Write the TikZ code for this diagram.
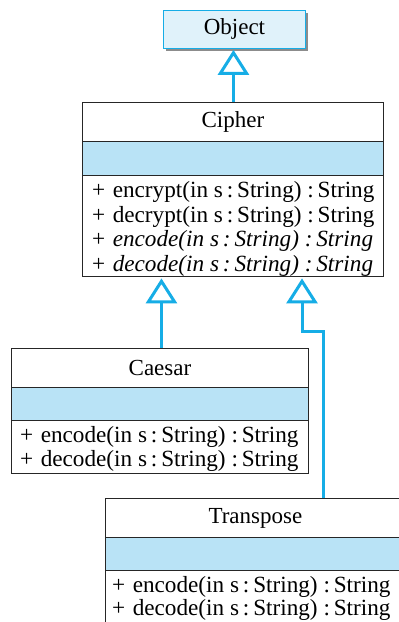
\documentclass[tikz,border=0pt]{standalone}
\usepackage{fontspec}
\setmainfont{Liberation Serif}
\usetikzlibrary{arrows.meta,shadows}
\definecolor{umlcyan}{HTML}{16ADE6}
\definecolor{compblue}{HTML}{B9E3F6}
\definecolor{objfill}{HTML}{E0F2FA}
\newcommand{\pl}{+\hspace{7.5pt}}
\tikzset{
  box/.style={draw=black!85, line width=0.9pt, fill=white, anchor=north west, inner sep=0pt,
    font=\fontsize{23}{25}\selectfont},
  attr/.style={box, fill=compblue},
  methtext/.style={anchor=west, align=left, inner sep=0pt, font=\fontsize{23.2}{24.5}\selectfont},
  inh/.style={draw=umlcyan, line width=3pt, -{Triangle[open, length=25pt, width=31pt, line width=3pt]}},
}
\begin{document}
\begin{tikzpicture}[x=1pt,y=-1pt]
\useasboundingbox (0,0) rectangle (399,622);
\clip (0,0) rectangle (399,622);
% Object
\node[box, draw=umlcyan, fill=objfill, minimum width=142pt, minimum height=38pt,
  drop shadow={shadow xshift=3pt, shadow yshift=-3pt, fill=black!45, opacity=1}] (obj) at (163,10) {Object};
% Cipher
\node[box, minimum width=301pt, minimum height=39pt] (cipher) at (82,102) {Cipher};
\node[attr, minimum width=301pt, minimum height=34pt] (cipherA) at (82,141) {};
\node[box, minimum width=301pt, minimum height=101pt] (cipherM) at (82,175) {};
\node[methtext, yshift=-3pt] (cipherT) at ([xshift=10pt]cipherM.west)
  {\pl encrypt(in s\,:\,String) :\,String\\
   \pl decrypt(in s\,:\,String) :\,String\\
   \pl \textit{encode(in s\,:\,String) :\,String}\\
   \pl \textit{decode(in s\,:\,String) :\,String}};
% Caesar
\node[box, minimum width=297pt, minimum height=39pt] (caesar) at (11,348) {Caesar};
\node[attr, minimum width=297pt, minimum height=33pt] (caesarA) at (11,387) {};
\node[box, minimum width=297pt, minimum height=53pt] (caesarM) at (11,420) {};
\node[methtext, yshift=-2pt, font=\fontsize{23.2}{23.5}\selectfont] (caesarT) at ([xshift=9pt]caesarM.west)
  {\pl encode(in s\,:\,String) :\,String\\
   \pl decode(in s\,:\,String) :\,String};
% Transpose
\node[box, minimum width=300pt, minimum height=39pt] (transpose) at (105,498) {Transpose};
\node[attr, minimum width=300pt, minimum height=33pt] (transposeA) at (105,537) {};
\node[box, minimum width=300pt, minimum height=57pt] (transposeM) at (105,570) {};
\node[methtext, yshift=1pt, font=\fontsize{23.2}{23}\selectfont] (transposeT) at ([xshift=7pt]transposeM.west)
  {\pl encode(in s\,:\,String) :\,String\\
   \pl decode(in s\,:\,String) :\,String};
% connectors
\draw[inh] ([xshift=0.5pt]cipher.north) -- ([xshift=0.5pt, yshift=-1pt]cipher.north |- obj.south);
\draw[inh] ([xshift=1.5pt]caesar.north) -- ([xshift=1.5pt, yshift=-1.5pt]caesar.north |- cipherM.south);
\coordinate (tj) at (323,331);
\coordinate (tb) at (302,331);
\draw[inh] (tj |- transpose.north) -- (tj) -- (tb) -- ([yshift=-1.5pt]tb |- cipherM.south);
\end{tikzpicture}
\end{document}
